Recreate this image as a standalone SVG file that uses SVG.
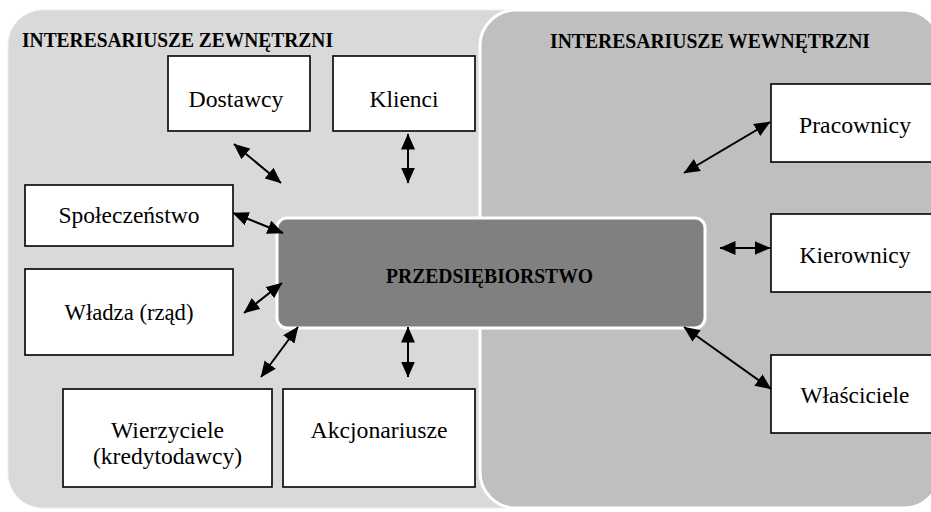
<svg xmlns="http://www.w3.org/2000/svg" width="931" height="512" viewBox="0 0 931 512">
<defs>
<marker id="ah" viewBox="0 0 16 14" refX="15.5" refY="7" markerWidth="16" markerHeight="14" markerUnits="userSpaceOnUse" orient="auto-start-reverse">
<path d="M0,0 L16,7 L0,14 Z" fill="#000"/>
</marker>
</defs>
<style>
.box{fill:#fff;stroke:#000;stroke-width:1.6}
.lbl{font-family:"Liberation Serif","DejaVu Serif","Noto Serif",serif;font-size:23.5px;fill:#000;text-anchor:middle}
.ttl{font-family:"Liberation Serif","DejaVu Serif","Noto Serif",serif;font-size:21px;font-weight:bold;fill:#000}
.conn line{stroke:#000;stroke-width:2;marker-start:url(#ah);marker-end:url(#ah)}
</style>
<rect width="931" height="512" fill="#fff"/>
<g id="zewnetrzni">
<rect x="8" y="10" width="540" height="498" rx="35" fill="#d9d9d9" stroke="#ececec" stroke-width="1"/>
<text class="ttl" x="22" y="47" textLength="311" lengthAdjust="spacingAndGlyphs">INTERESARIUSZE ZEWNĘTRZNI</text>
</g>
<g id="wewnetrzni">
<rect x="480" y="10" width="460" height="498" rx="36" fill="#bfbfbf" stroke="#fff" stroke-width="3"/>
<text class="ttl" x="550" y="48" textLength="320" lengthAdjust="spacingAndGlyphs">INTERESARIUSZE WEWNĘTRZNI</text>
</g>
<g id="dostawcy"><rect class="box" x="168" y="56" width="142" height="75"/><text class="lbl" x="236" y="107" textLength="95" lengthAdjust="spacingAndGlyphs">Dostawcy</text></g>
<g id="klienci"><rect class="box" x="333" y="56" width="142" height="75"/><text class="lbl" x="404" y="107" textLength="69" lengthAdjust="spacingAndGlyphs">Klienci</text></g>
<g id="spoleczenstwo"><rect class="box" x="25" y="185" width="208" height="61"/><text class="lbl" x="129" y="223" textLength="141" lengthAdjust="spacingAndGlyphs">Społeczeństwo</text></g>
<g id="wladza"><rect class="box" x="25" y="269" width="208" height="86"/><text class="lbl" x="129" y="320" textLength="129" lengthAdjust="spacingAndGlyphs">Władza (rząd)</text></g>
<g id="wierzyciele"><rect class="box" x="63" y="389" width="209" height="98"/><text class="lbl" x="167.5" y="438" textLength="113" lengthAdjust="spacingAndGlyphs">Wierzyciele</text><text class="lbl" x="167.5" y="464" textLength="149" lengthAdjust="spacingAndGlyphs">(kredytodawcy)</text></g>
<g id="akcjonariusze"><rect class="box" x="283" y="389" width="192" height="98"/><text class="lbl" x="379" y="438" textLength="137" lengthAdjust="spacingAndGlyphs">Akcjonariusze</text></g>
<g id="pracownicy"><rect class="box" x="771" y="84" width="170" height="78"/><text class="lbl" x="855" y="133" textLength="112" lengthAdjust="spacingAndGlyphs">Pracownicy</text></g>
<g id="kierownicy"><rect class="box" x="771" y="214" width="170" height="78"/><text class="lbl" x="855" y="263" textLength="111" lengthAdjust="spacingAndGlyphs">Kierownicy</text></g>
<g id="wlasciciele"><rect class="box" x="771" y="355" width="170" height="78"/><text class="lbl" x="855" y="403" textLength="109" lengthAdjust="spacingAndGlyphs">Właściciele</text></g>
<g id="przedsiebiorstwo">
<rect x="277" y="218" width="428" height="110" rx="10" fill="#808080" stroke="#fff" stroke-width="3"/>
<text class="ttl" x="386" y="283" textLength="207" lengthAdjust="spacingAndGlyphs">PRZEDSIĘBIORSTWO</text>
</g>
<g id="connectors" class="conn">
<line x1="234" y1="144" x2="281" y2="183"/>
<line x1="408" y1="134" x2="408" y2="183"/>
<line x1="233" y1="213" x2="283" y2="233"/>
<line x1="244" y1="313" x2="282" y2="283"/>
<line x1="261" y1="377" x2="298" y2="327"/>
<line x1="408" y1="327" x2="408" y2="377"/>
<line x1="684" y1="173" x2="770" y2="122"/>
<line x1="720" y1="248" x2="770" y2="248"/>
<line x1="684" y1="327" x2="771" y2="389"/>
</g>
</svg>
